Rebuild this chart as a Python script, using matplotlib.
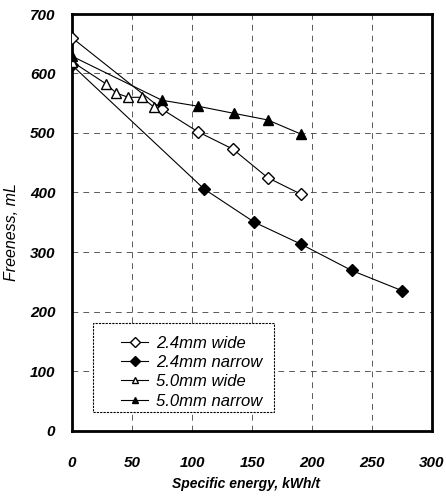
import matplotlib
matplotlib.use("Agg")
import matplotlib.pyplot as plt
from matplotlib.patches import Rectangle

plt.rcParams['font.family'] = ['Liberation Sans', 'DejaVu Sans']

# Données
wide24_x = [0, 75, 105, 134, 163, 191]
wide24_y = [660, 540, 502, 473, 425, 397]

narrow24_x = [0, 110, 152, 191, 233, 275]
narrow24_y = [614, 406, 350, 313, 269, 235]

wide50_x = [0, 28, 37, 47, 58, 68]
wide50_y = [620, 583, 567, 560, 560, 544]

narrow50_x = [0, 75, 105, 135, 163, 191]
narrow50_y = [629, 555, 545, 533, 522, 498]

xticks = [0, 50, 100, 150, 200, 250, 300]
yticks = [0, 100, 200, 300, 400, 500, 600, 700]

fig = plt.figure(figsize=(4.46, 4.98), dpi=100)
ax = fig.add_axes([72 / 446, 67.5 / 498, 360 / 446, 416.5 / 498])

ax.plot(wide24_x, wide24_y, color='black', lw=0.8, marker='D', ms=6,
        mfc='white', mec='black', mew=1.0, label='2.4mm wide', zorder=3)
ax.plot(narrow24_x, narrow24_y, color='black', lw=0.8, marker='D', ms=6,
        mfc='black', mec='black', label='2.4mm narrow', zorder=3)
ax.plot(wide50_x, wide50_y, color='black', lw=0.8, marker='^', ms=7,
        mfc='white', mec='black', mew=1.0, label='5.0mm wide', zorder=3)
ax.plot(narrow50_x, narrow50_y, color='black', lw=0.8, marker='^', ms=7,
        mfc='black', mec='black', label='5.0mm narrow', zorder=3)

ax.set_xlim(0, 300)
ax.set_ylim(0, 700)
ax.set_xticks(xticks)
ax.set_yticks(yticks)
ax.grid(True, color='0.25', linestyle=(0, (7, 6)), linewidth=0.6)
ax.tick_params(length=0)
ax.tick_params(axis='x', pad=18)
ax.tick_params(axis='y', pad=12)
for lab in ax.get_xticklabels() + ax.get_yticklabels():
    lab.set_fontsize(11)
    lab.set_fontweight('bold')
    lab.set_fontstyle('italic')

for s in ax.spines.values():
    s.set_linewidth(2)

ax.set_xlabel('Specific energy, kWh/t', fontsize=10, fontstyle='italic',
              fontweight='bold')
ax.set_ylabel('Freeness, mL', fontsize=11.5, fontstyle='italic')
ax.xaxis.set_label_coords(0.483, -0.112)
ax.yaxis.set_label_coords(-0.146, 0.477)

# cadre de la légende (style Excel)
ax.add_patch(Rectangle((0.0575, 0.0444), 0.5035, 0.2136, transform=ax.transAxes,
                       facecolor='white', edgecolor='black', linewidth=0.8,
                       linestyle=(0, (2, 1)), zorder=4))
leg = ax.legend(loc='upper left', bbox_to_anchor=(0.137, 0.228),
                prop={'style': 'italic', 'size': 12}, frameon=False,
                handlelength=1.6, handletextpad=0.5, labelspacing=0.26,
                borderpad=0, borderaxespad=0)
leg.set_zorder(5)
for h in leg.legend_handles:
    h.set_markersize(5)

fig.savefig('out.png', dpi=100)
